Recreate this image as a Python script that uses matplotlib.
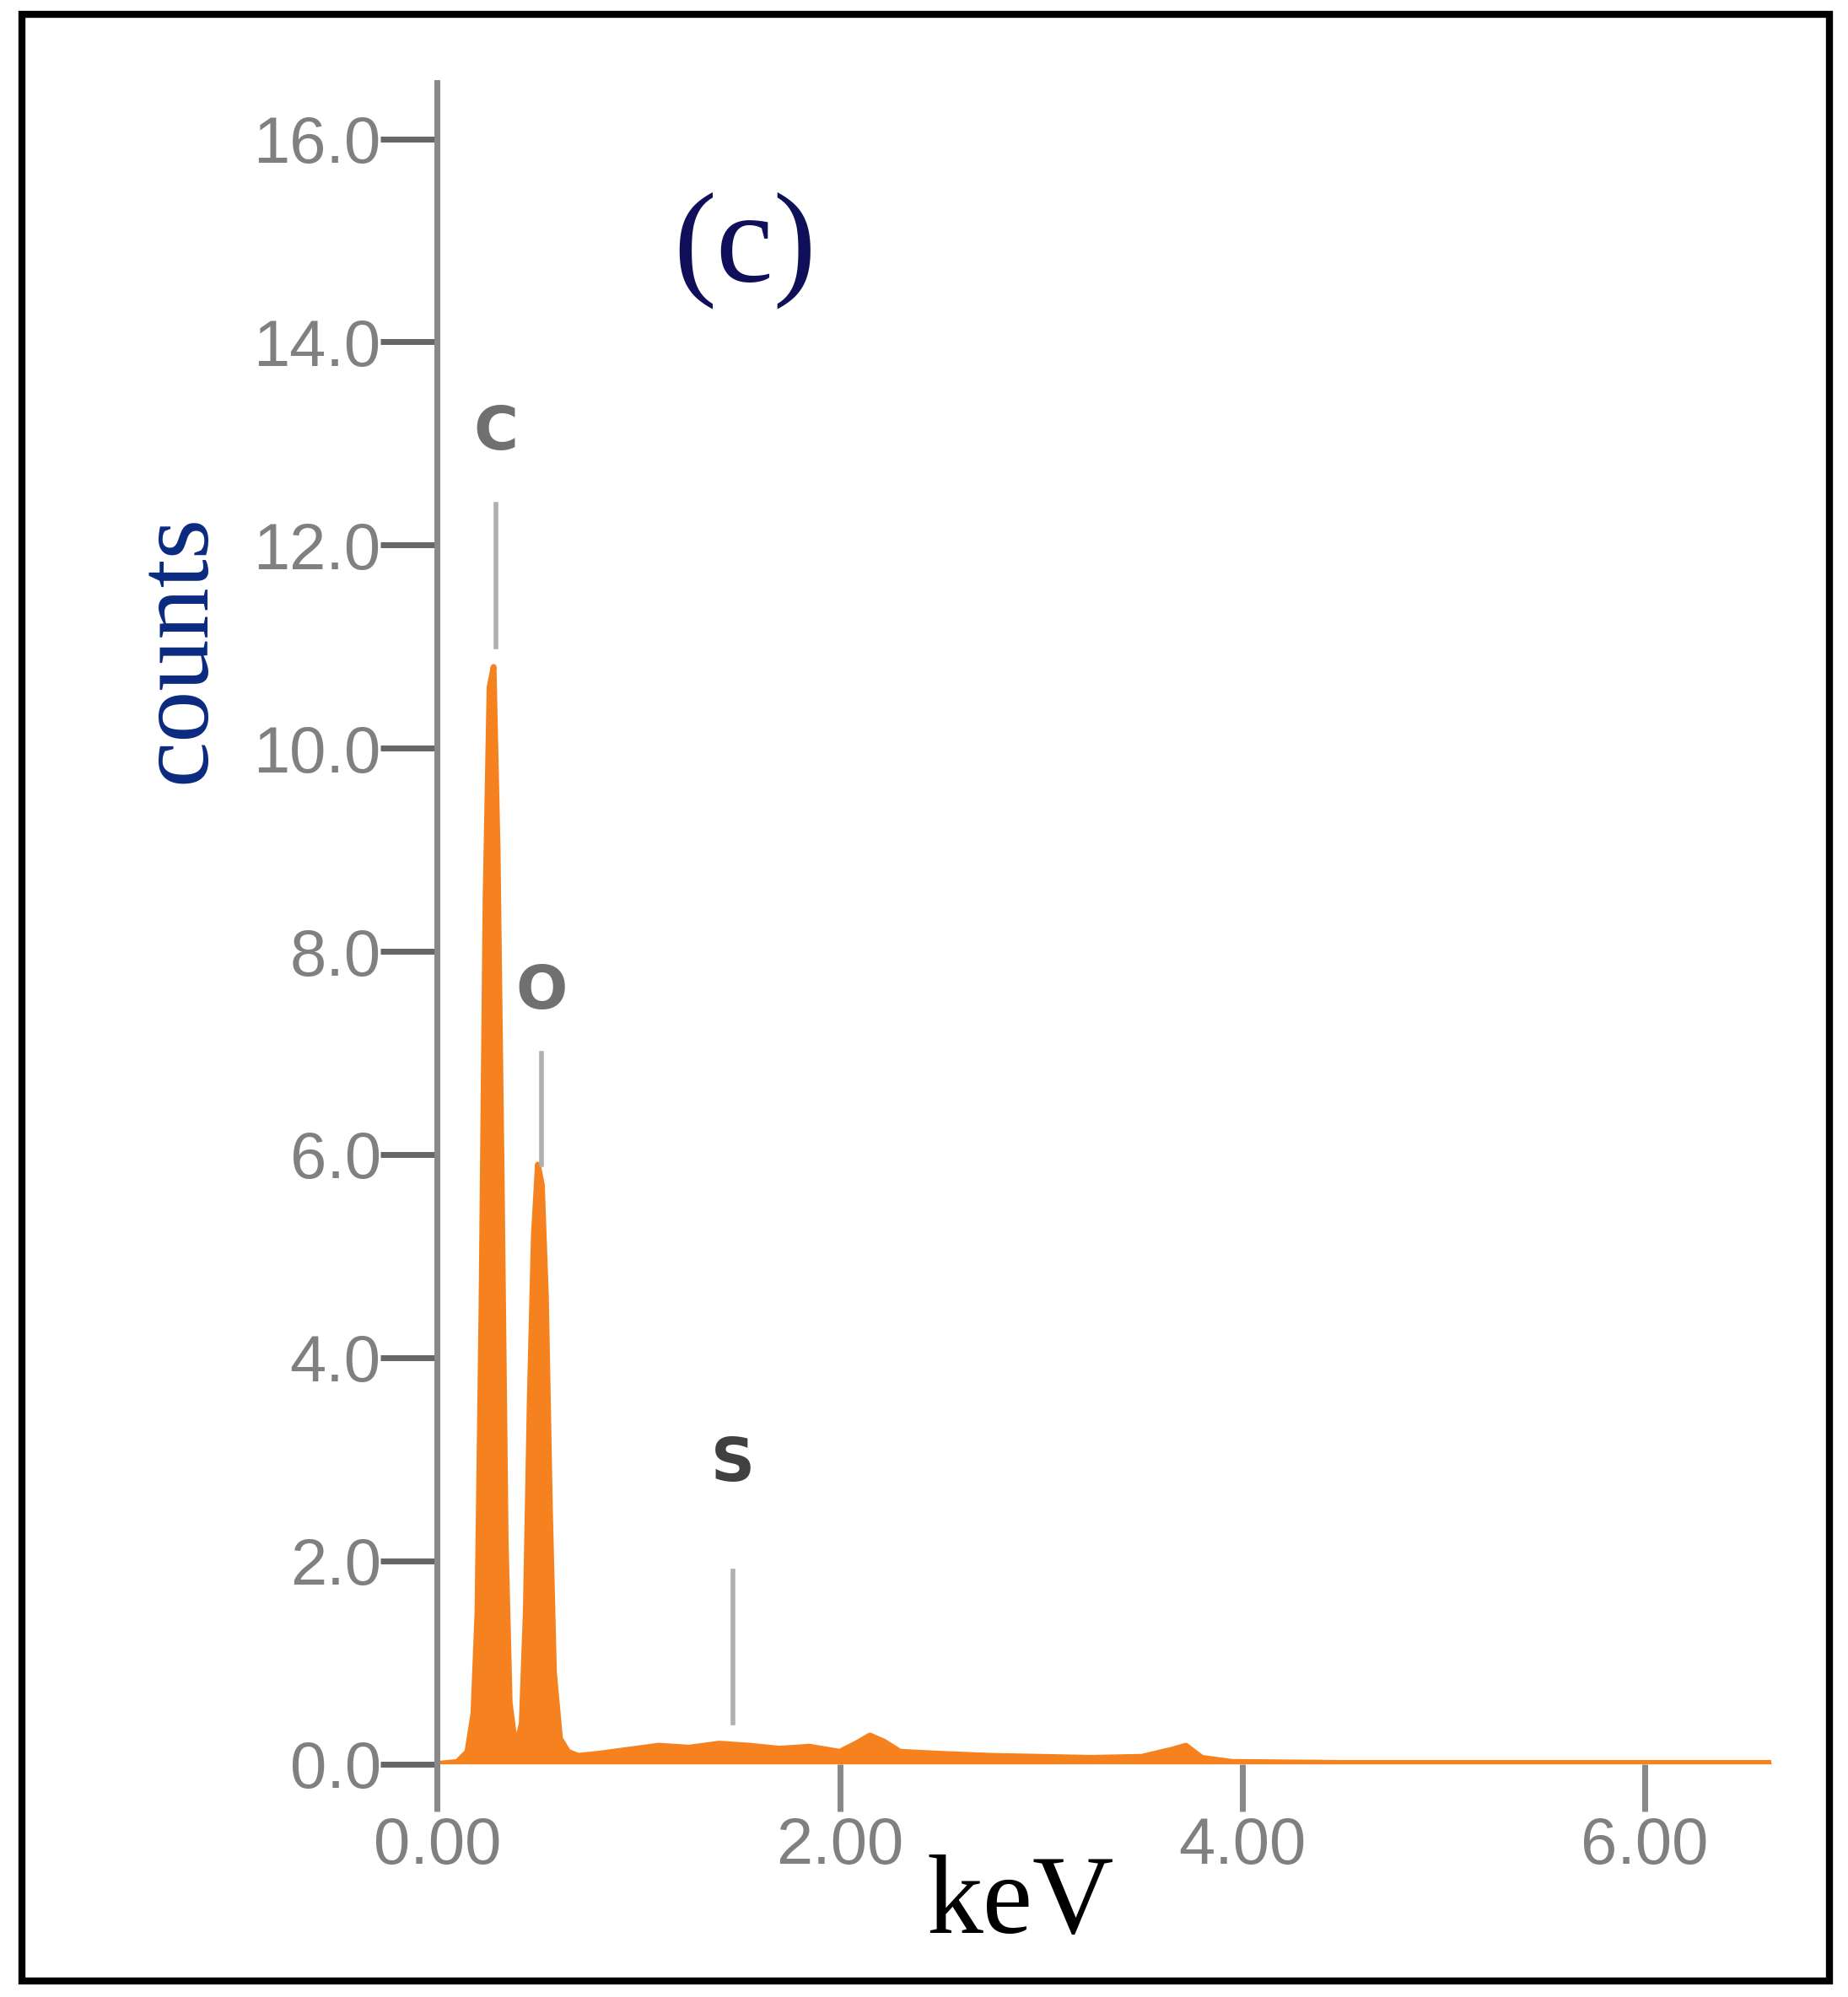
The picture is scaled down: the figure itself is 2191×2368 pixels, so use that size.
import matplotlib.pyplot as plt
from matplotlib.patches import Rectangle

# EDS spectrum (keV, counts)
energy = [0.00, 0.10, 0.15, 0.18, 0.20, 0.22, 0.24, 0.26, 0.28, 0.30, 0.32, 0.34, 0.36,
          0.39, 0.42, 0.44, 0.46, 0.48, 0.50, 0.52, 0.54, 0.56, 0.58, 0.61, 0.65, 0.70,
          0.80, 0.95, 1.10, 1.25, 1.40, 1.55, 1.70, 1.85, 2.00, 2.08, 2.15, 2.22, 2.30,
          2.50, 2.75, 3.00, 3.25, 3.50, 3.65, 3.72, 3.80, 3.95, 4.50, 5.00, 5.50, 6.00, 6.63]
counts = [0.00, 0.02, 0.12, 0.50, 1.50, 4.50, 8.50, 10.60, 10.80, 9.00, 5.80, 2.20, 0.60,
          0.15, 0.40, 1.50, 3.60, 5.20, 5.90, 5.70, 4.60, 2.50, 0.90, 0.25, 0.12, 0.08,
          0.10, 0.14, 0.18, 0.16, 0.20, 0.18, 0.15, 0.17, 0.12, 0.20, 0.28, 0.22, 0.12,
          0.10, 0.08, 0.07, 0.06, 0.07, 0.14, 0.18, 0.06, 0.02, 0.01, 0.01, 0.01, 0.01, 0.01]

elements = ["C", "O", "S"]
elem_x = [0.29, 0.52, 1.47]
elem_label_y = [13.1, 7.6, 2.95]
elem_line = [(11.0, 12.4), (5.9, 7.0), (0.4, 1.9)]

yticks = [0, 2, 4, 6, 8, 10, 12, 14, 16]
xticks = [0, 2, 4, 6]

fig = plt.figure(figsize=(21.91, 23.68), dpi=100)
fig.patches.append(Rectangle((0.012, 0.008), 0.978, 0.985, transform=fig.transFigure,
                             fill=False, edgecolor="black", linewidth=6))
ax = fig.add_axes([0.2366, 0.1167, 0.722, 0.8418])

orange = "#f5821f"
ax.fill_between(energy, 0, counts, color=orange, linewidth=0)
ax.plot(energy, counts, color=orange, linewidth=5)

for name, x, ly, (y0, y1) in zip(elements, elem_x, elem_label_y, elem_line):
    ax.plot([x, x], [y0, y1], color="#b0b0b0", linewidth=4)
    ax.text(x, ly, name, ha="center", va="center", fontsize=52,
            color="#707070" if name != "S" else "#404040", fontweight="bold")

ax.set_xlim(0, 6.63)
ax.set_ylim(0, 16.55)
for s in ["top", "right"]:
    ax.spines[s].set_visible(False)
for s in ["left", "bottom"]:
    ax.spines[s].set_color("#888888")
    ax.spines[s].set_linewidth(5)
ax.spines["bottom"].set_visible(False)
ax.set_yticks(yticks)
ax.set_yticklabels([f"{v:.1f}" for v in yticks])
ax.set_xticks(xticks)
ax.set_xticklabels([f"{v:.2f}" for v in xticks])
ax.tick_params(axis="y", direction="out", length=48, width=5, color="#666666",
               labelsize=56, labelcolor="#808080", pad=0)
ax.tick_params(axis="x", direction="out", length=40, width=5, color="#888888",
               labelsize=56, labelcolor="#808080", pad=4)
for lab in ax.get_xticklabels() + ax.get_yticklabels():
    lab.set_family("Liberation Sans")

ax.text(1.53, 14.9, "(c)", ha="center", va="center", fontsize=110,
        family="Liberation Serif", color="#10105a")
fig.text(0.097, 0.675, "counts", rotation=90, ha="center", va="center", fontsize=88,
         family="Liberation Serif", color="#0a2a80")
fig.text(0.552, 0.046, "keV", ha="center", va="center", fontsize=96,
         family="Liberation Serif", color="black")

fig.savefig("out.png", dpi=100)
